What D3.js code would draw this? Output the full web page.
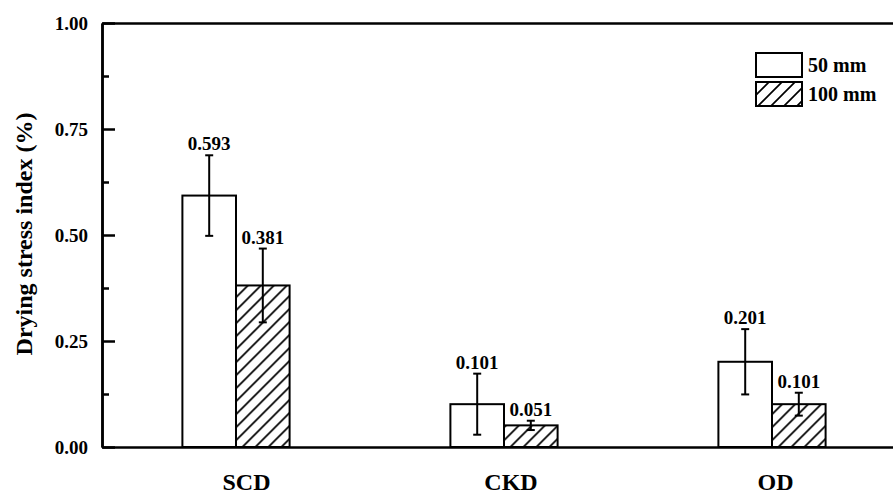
<!DOCTYPE html>
<html>
<head>
<meta charset="utf-8">
<script src="https://cdn.jsdelivr.net/npm/d3@7"></script>
<style>
  body { margin: 0; background: #fff; }
  text { font-family: "Liberation Serif", "Times New Roman", serif; font-weight: bold; fill: #000; }
</style>
</head>
<body>
<script>
// data
const categories = ["SCD", "CKD", "OD"];
const seriesNames = ["50 mm", "100 mm"];
const values50 = [0.593, 0.101, 0.201];
const values100 = [0.381, 0.051, 0.101];
const err50 = [0.095, 0.072, 0.077];
const err100 = [0.087, 0.011, 0.027];
const yTicks = [0, 0.25, 0.5, 0.75, 1.0];
const yMinorTicks = [0.125, 0.375, 0.625, 0.875];

const W = 893, H = 495;
const margin = {top: 23, left: 102, bottom: 48};
const plotH = H - margin.top - margin.bottom;

const svg = d3.select("body").append("svg")
    .attr("width", W)
    .attr("height", H);

// hatch pattern
const defs = svg.append("defs");
const hatch = defs.append("pattern")
    .attr("id", "hatch")
    .attr("patternUnits", "userSpaceOnUse")
    .attr("width", 13)
    .attr("height", 13);
hatch.append("path")
    .attr("d", "M-2,15 L15,-2 M-4,4 L4,-4 M9,17 L17,9")
    .attr("stroke", "#000")
    .attr("stroke-width", 1.7)
    .attr("fill", "none");

const x = d3.scaleBand()
    .domain(categories)
    .range([margin.left, 906])
    .paddingInner(0.6)
    .paddingOuter(0.3);

// category labels sit a little right of the bar groups in the original
const xLabel = d3.scalePoint()
    .domain(categories)
    .range([246, 775]);

const xs = d3.scaleBand()
    .domain(seriesNames)
    .range([0, x.bandwidth()]);

const y = d3.scaleLinear()
    .domain([0, 1])
    .range([margin.top + plotH, margin.top]);

const rows = categories.map((c, i) => ({
  cat: c,
  bars: [
    {s: seriesNames[0], v: values50[i], e: err50[i], fill: "#fff"},
    {s: seriesNames[1], v: values100[i], e: err100[i], fill: "url(#hatch)"}
  ]
}));

const groups = svg.append("g").selectAll("g")
    .data(rows)
    .enter().append("g")
    .attr("transform", d => "translate(" + x(d.cat) + ",0)");

const bar = groups.selectAll("g.bar")
    .data(d => d.bars)
    .enter().append("g").attr("class", "bar");

bar.append("rect")
    .attr("x", d => xs(d.s))
    .attr("y", d => y(d.v))
    .attr("width", xs.bandwidth())
    .attr("height", d => y(0) - y(d.v))
    .attr("fill", d => d.fill)
    .attr("stroke", "#000")
    .attr("stroke-width", 2);

// error bars
const cx = d => xs(d.s) + xs.bandwidth() / 2;
bar.append("line")
    .attr("x1", cx).attr("x2", cx)
    .attr("y1", d => y(d.v + d.e)).attr("y2", d => y(d.v - d.e))
    .attr("stroke", "#000").attr("stroke-width", 2);
bar.append("line")
    .attr("x1", d => cx(d) - 4).attr("x2", d => cx(d) + 4)
    .attr("y1", d => y(d.v + d.e)).attr("y2", d => y(d.v + d.e))
    .attr("stroke", "#000").attr("stroke-width", 2);
bar.append("line")
    .attr("x1", d => cx(d) - 4).attr("x2", d => cx(d) + 4)
    .attr("y1", d => y(d.v - d.e)).attr("y2", d => y(d.v - d.e))
    .attr("stroke", "#000").attr("stroke-width", 2);

// value labels
bar.append("text")
    .attr("x", cx)
    .attr("y", d => y(d.v + d.e) - 5)
    .attr("text-anchor", "middle")
    .style("font-size", "19px")
    .text(d => d.v.toFixed(3));

// axes
const yAxis = svg.append("g")
    .attr("transform", "translate(" + margin.left + ",0)")
    .call(d3.axisLeft(y).tickValues(yTicks).tickSizeInner(-13).tickSizeOuter(0)
      .tickPadding(14).tickFormat(d3.format(".2f")));
yAxis.selectAll("text").style("font-size", "19px")
    .style("font-family", "Liberation Serif, Times New Roman, serif");

svg.append("g")
    .attr("transform", "translate(" + margin.left + ",0)")
    .call(d3.axisLeft(y).tickValues(yMinorTicks).tickSizeInner(-7).tickSizeOuter(0).tickFormat(""));

svg.append("g")
    .attr("transform", "translate(0," + y(0) + ")")
    .call(d3.axisBottom(x).tickSize(0).tickFormat(""));

const xAxis = svg.append("g")
    .attr("transform", "translate(0," + y(0) + ")")
    .call(d3.axisBottom(xLabel).tickSize(0).tickPadding(26));
xAxis.select(".domain").remove();
xAxis.selectAll("text").style("font-size", "24px")
    .style("font-family", "Liberation Serif, Times New Roman, serif");

svg.append("g")
    .attr("transform", "translate(0," + y(1) + ")")
    .call(d3.axisTop(x).tickSize(0).tickFormat(""));

svg.selectAll(".domain, .tick line")
    .attr("stroke", "#000")
    .attr("stroke-width", 2.5);

// y title
svg.append("text")
    .attr("transform", "rotate(-90)")
    .attr("x", -234)
    .attr("y", 32)
    .attr("text-anchor", "middle")
    .style("font-size", "24px")
    .text("Drying stress index (%)");

// legend
const legend = svg.append("g").attr("transform", "translate(756,53)");
const leg = legend.selectAll("g")
    .data([{s: seriesNames[0], fill: "#fff"}, {s: seriesNames[1], fill: "url(#hatch)"}])
    .enter().append("g")
    .attr("transform", (d, i) => "translate(0," + i * 29 + ")");
leg.append("rect")
    .attr("width", 46).attr("height", 24)
    .attr("fill", d => d.fill)
    .attr("stroke", "#000").attr("stroke-width", 2);
leg.append("text")
    .attr("x", 52).attr("y", 19)
    .style("font-size", "20px")
    .text(d => d.s);
</script>
</body>
</html>
